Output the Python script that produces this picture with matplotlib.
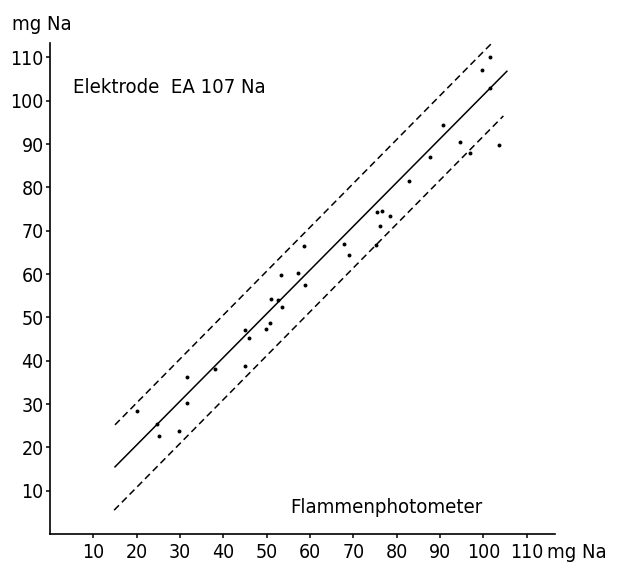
import matplotlib
matplotlib.use('Agg')
import matplotlib.pyplot as plt

plt.rcParams['font.family'] = ['DejaVu Sans']
plt.rcParams['font.stretch'] = 'condensed'

# Messwerte: Flammenphotometer (x) gegen Elektrode (y), mg Na
flame = [20.0, 24.6, 25.2, 29.8, 31.5, 31.5, 38.1, 45.0, 45.0, 45.9,
         49.8, 50.8, 51.0, 52.5, 53.5, 53.3, 57.2, 58.9, 58.5, 67.8,
         68.9, 76.1, 75.2, 75.4, 76.6, 78.5, 82.8, 87.7, 90.6, 94.6,
         97.0, 103.7, 99.7, 101.6, 101.4]
electrode = [28.5, 25.5, 22.6, 23.8, 36.2, 30.2, 38.2, 38.8, 47.2, 45.3,
             47.3, 48.8, 54.2, 54.1, 52.3, 59.8, 60.3, 57.4, 66.4, 67.0,
             64.5, 71.0, 66.6, 74.3, 74.5, 73.5, 81.5, 87.1, 94.3, 90.5,
             87.9, 89.7, 107.2, 110.1, 102.9]

# Regressionsgerade und Grenzlinien (Endpunkte aus dem Bild)
fit_x = [15.0, 105.4]
fit_y = [15.5, 106.8]
upper_x = [15.0, 104.4]
upper_y = [25.2, 115.8]
lower_x = [14.8, 104.6]
lower_y = [5.5, 96.5]

ticks = [10, 20, 30, 40, 50, 60, 70, 80, 90, 100, 110]

fig = plt.figure(figsize=(6.27, 5.62), dpi=100)
ax = fig.add_axes([0.0797, 0.0498, 0.8054, 0.8742])

ax.plot(fit_x, fit_y, color='black', lw=1.1)
ax.plot(upper_x, upper_y, color='black', lw=1.1, linestyle=(0, (4.5, 2.7)))
ax.plot(lower_x, lower_y, color='black', lw=1.1, linestyle=(0, (4.5, 2.7)))
ax.scatter(flame, electrode, s=8, color='black', zorder=3, linewidths=0)

ax.set_xlim(0, 116.5)
ax.set_ylim(0, 113.4)
ax.set_xticks(ticks)
ax.set_yticks(ticks)
ax.tick_params(axis='both', direction='out', length=3, width=1.1,
               labelsize=14, colors='black')
ax.tick_params(axis='x', pad=3.5)
ax.tick_params(axis='y', pad=1.5)

for side in ['top', 'right']:
    ax.spines[side].set_visible(False)
for side in ['left', 'bottom']:
    ax.spines[side].set_linewidth(1.2)

ax.text(5.3, 103, 'Elektrode  EA 107 Na', fontsize=14.6, va='center', ha='left')
ax.text(55.4, 6.2, 'Flammenphotometer', fontsize=14.6, va='center', ha='left')

fig.text(12 / 627, 1 - 24 / 562, 'mg Na', fontsize=14.6, va='center', ha='left')
fig.text(547 / 627, 1 - 552 / 562, 'mg Na', fontsize=14.6, va='center', ha='left')

fig.savefig('out.png', dpi=100, facecolor='white')
